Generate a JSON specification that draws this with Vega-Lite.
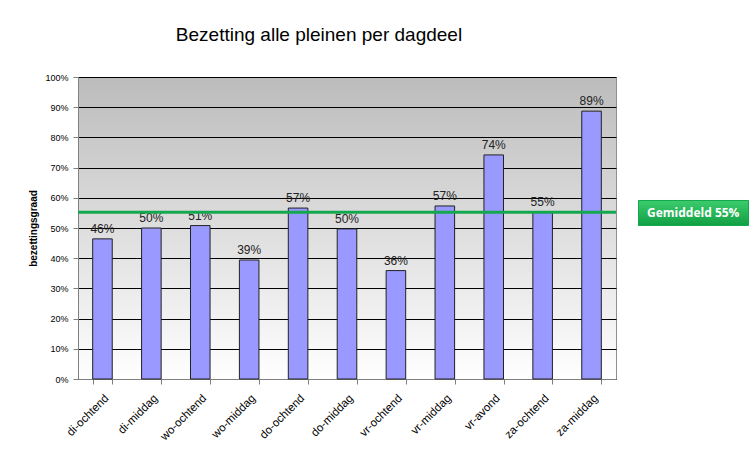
{
  "$schema": "https://vega.github.io/schema/vega-lite/v6.json",
  "width": 538,
  "height": 302,
  "autosize": {"type": "none"},
  "padding": {"left": 78, "top": 77, "right": 133, "bottom": 86},
  "background": "white",
  "title": {
    "text": "Bezetting alle pleinen per dagdeel",
    "font": "Liberation Sans",
    "fontSize": 19,
    "fontWeight": "normal",
    "color": "#000000",
    "anchor": "middle",
    "dx": -28,
    "offset": 9,
    "baseline": "bottom"
  },
  "config": {
    "view": {
      "stroke": "#909090",
      "fill": {
        "gradient": "linear",
        "x1": 0, "y1": 0, "x2": 0, "y2": 1,
        "stops": [
          {"offset": 0, "color": "#bcbcbc"},
          {"offset": 1, "color": "#ffffff"}
        ]
      }
    }
  },
  "datasets": {
    "bars": [
      {"dagdeel": "di-ochtend", "bezetting": 0.464},
      {"dagdeel": "di-middag", "bezetting": 0.500},
      {"dagdeel": "wo-ochtend", "bezetting": 0.508},
      {"dagdeel": "wo-middag", "bezetting": 0.394},
      {"dagdeel": "do-ochtend", "bezetting": 0.566},
      {"dagdeel": "do-middag", "bezetting": 0.497},
      {"dagdeel": "vr-ochtend", "bezetting": 0.359},
      {"dagdeel": "vr-middag", "bezetting": 0.573},
      {"dagdeel": "vr-avond", "bezetting": 0.742},
      {"dagdeel": "za-ochtend", "bezetting": 0.552},
      {"dagdeel": "za-middag", "bezetting": 0.887}
    ],
    "gem": [{"label": "Gemiddeld 55%", "gem": 0.552}]
  },
  "layer": [
    {
      "data": {"name": "bars"},
      "mark": {"type": "bar", "fill": "#9999ff", "stroke": "#222222", "strokeWidth": 1},
      "encoding": {
        "x": {
          "field": "dagdeel", "type": "nominal", "sort": null,
          "scale": {"paddingInner": 0.6, "paddingOuter": 0.3},
          "axis": {
            "title": null,
            "labelAngle": -45,
            "labelFont": "Liberation Sans",
            "labelFontSize": 11.5,
            "labelColor": "#000000",
            "tickSize": 5,
            "tickBand": "extent",
            "domainColor": "#808080",
            "tickColor": "#808080",
            "labelPadding": 8
          }
        },
        "y": {
          "field": "bezetting", "type": "quantitative",
          "scale": {"domain": [0, 1]},
          "axis": {
            "values": [0, 0.1, 0.2, 0.3, 0.4, 0.5, 0.6, 0.7, 0.8, 0.9, 1],
            "tickCount": 11,
            "labelOverlap": false,
            "format": ".0%",
            "title": "bezettingsgraad",
            "titleFont": "Liberation Sans",
            "titleFontSize": 10,
            "titleFontWeight": "bold",
            "titlePadding": 6,
            "labelFont": "Liberation Sans",
            "labelFontSize": 9,
            "labelColor": "#000000",
            "grid": true,
            "gridColor": "#000000",
            "gridWidth": 1,
            "gridOpacity": 1,
            "tickSize": 5,
            "labelPadding": 5,
            "domainColor": "#808080",
            "tickColor": "#808080"
          }
        }
      }
    },
    {
      "data": {"name": "bars"},
      "mark": {"type": "text", "font": "Liberation Sans", "fontSize": 12, "color": "#222222", "baseline": "bottom", "dy": -3},
      "encoding": {
        "x": {"field": "dagdeel", "type": "nominal", "sort": null},
        "y": {"field": "bezetting", "type": "quantitative"},
        "text": {"field": "bezetting", "type": "quantitative", "format": ".0%"}
      }
    },
    {
      "data": {"name": "gem"},
      "mark": {"type": "rule", "strokeWidth": 3},
      "encoding": {
        "y": {"field": "gem", "type": "quantitative"},
        "color": {
          "field": "label", "type": "nominal",
          "scale": {"range": ["#13a84e"]},
          "legend": {
            "title": null,
            "orient": "none",
            "legendX": 560,
            "legendY": 80.5,
            "padding": 0,
            "symbolType": "M-1,-0.2273H1V0.2273H-1Z",
            "symbolSize": 12100,
            "labelFont": "Open Sans",
            "labelFontSize": 12,
            "labelFontWeight": "bold",
            "labelColor": "#ffffff",
            "labelOffset": -102,
            "encode": {
              "symbols": {
                "update": {
                  "fill": {"value": {"gradient": "linear", "x1": 0, "y1": 0, "x2": 0, "y2": 1, "stops": [{"offset": 0, "color": "#3ccc6c"}, {"offset": 1, "color": "#10a044"}]}},
                  "stroke": {"value": "#8a8a8a"},
                  "strokeWidth": {"value": 1},
                  "opacity": {"value": 1}
                }
              }
            }
          }
        }
      }
    }
  ]
}
